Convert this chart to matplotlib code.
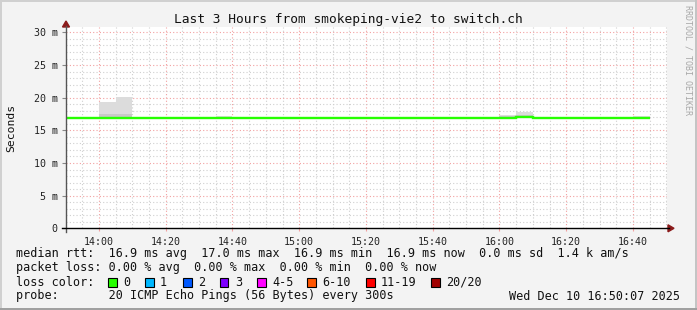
import numpy as np
import matplotlib
matplotlib.use("Agg")
import matplotlib.pyplot as plt
from matplotlib.patches import Rectangle

# time axis in minutes relative to 14:00, 5 minute steps (300s)
step_edges = [-10, -5, 0, 5, 10, 15, 20, 25, 30, 35, 40, 45, 50, 55, 60, 65, 70, 75,
              80, 85, 90, 95, 100, 105, 110, 115, 120, 125, 130, 135, 140, 145, 150,
              155, 160, 165]
median_ms = [16.9, 16.9, 16.9, 16.9, 16.9, 16.9, 16.9, 16.9, 16.9, 16.9, 16.9, 16.9,
             16.9, 16.9, 16.9, 16.9, 16.9, 16.9, 16.9, 16.9, 16.9, 16.9, 16.9, 16.9,
             16.9, 16.9, 16.9, 17.1, 16.9, 16.9, 16.9, 16.9, 16.9, 16.9, 16.9]
smoke_min = [16.8, 16.8, 16.8, 16.8, 16.8, 16.8, 16.8, 16.8, 16.8, 16.8, 16.8, 16.8,
             16.8, 16.8, 16.8, 16.8, 16.8, 16.8, 16.8, 16.8, 16.8, 16.8, 16.8, 16.8,
             16.8, 16.8, 16.8, 16.9, 16.8, 16.8, 16.8, 16.8, 16.8, 16.8, 16.8]
smoke_mid = [17.0, 17.0, 17.45, 17.5, 17.0, 17.0, 17.0, 17.0, 17.0, 17.1, 17.0, 17.0,
             17.0, 17.0, 17.0, 17.0, 17.0, 17.0, 17.0, 17.0, 17.0, 17.0, 17.0, 17.0,
             17.0, 17.0, 17.2, 17.4, 17.0, 17.0, 17.0, 17.0, 17.0, 17.0, 17.1]
smoke_max = [17.0, 17.0, 19.3, 20.15, 17.0, 17.0, 17.0, 17.0, 17.0, 17.25, 17.0, 17.0,
             17.0, 17.0, 17.0, 17.0, 17.0, 17.0, 17.0, 17.0, 17.0, 17.0, 17.0, 17.0,
             17.0, 17.0, 17.35, 17.8, 17.0, 17.0, 17.0, 17.0, 17.0, 17.0, 17.25]

x_ticks = [0, 20, 40, 60, 80, 100, 120, 140, 160]
x_labels = ["14:00", "14:20", "14:40", "15:00", "15:20", "15:40", "16:00", "16:20", "16:40"]
y_ticks = [0, 5, 10, 15, 20, 25, 30]
y_labels = ["0", "5 m", "10 m", "15 m", "20 m", "25 m", "30 m"]

loss_labels = ["0", "1", "2", "3", "4-5", "6-10", "11-19", "20/20"]
loss_colors = ["#26ff00", "#00b8ff", "#0059ff", "#7e00ff", "#ff00ff", "#ff5500",
               "#ff0000", "#a10000"]

W, H = 697, 310
mono = "DejaVu Sans Mono"
fig = plt.figure(figsize=(W / 100, H / 100), dpi=100, facecolor="#f3f3f3")

x0, x1 = -9.88, 170.12
ax_l, ax_r, ax_b, ax_t = 66, 666.75, 228.3, 27.2
ax = fig.add_axes([ax_l / W, (H - ax_b) / H, (ax_r - ax_l) / W, (ax_b - ax_t) / H])
ax.set_facecolor("white")
ax.set_xlim(x0, x1)
ax.set_ylim(0, 30.8)

# grid
for m in range(-5, 171, 5):
    major = m % 20 == 0
    ax.axvline(m, color="#f2a0a0" if major else "#cfcfcf", lw=0.8,
               ls=(0, (1, 2)), zorder=1)
for v in range(1, 31):
    major = v % 5 == 0
    ax.axhline(v, color="#f2a0a0" if major else "#cfcfcf", lw=0.8,
               ls=(0, (1, 2)), zorder=1)

# smoke
ax.stairs(smoke_max, step_edges, baseline=smoke_min, fill=True, color="#dcdcdc",
          lw=0, zorder=2)
ax.stairs(smoke_mid, step_edges, baseline=smoke_min, fill=True, color="#c8c8c8",
          lw=0, zorder=3)
# median
ax.stairs(median_ms, step_edges, baseline=None, color="#26ff00", lw=1.7, zorder=4)

for s in ax.spines.values():
    s.set_visible(False)
ax.set_xticks(x_ticks)
ax.set_xticklabels(x_labels, family=mono, fontsize=7.2, color="#222222")
ax.set_yticks(y_ticks)
ax.set_yticklabels(y_labels, family=mono, fontsize=7.2, color="#222222")
ax.tick_params(axis="x", length=2, color="#f2a0a0", pad=4)
ax.tick_params(axis="y", length=3, color="#888888", pad=3)

# axis lines with arrows
fig.add_artist(plt.Line2D([ax_l / W, ax_l / W], [(H - ax_b - 4) / H, (H - 26) / H],
                          color="#555555", lw=1))
fig.add_artist(plt.Line2D([(ax_l - 4) / W, 669 / W], [(H - ax_b) / H, (H - ax_b) / H],
                          color="#000000", lw=1))
fig.add_artist(plt.Polygon([[(ax_l - 3.5) / W, (H - 27) / H], [(ax_l + 3.5) / W, (H - 27) / H],
                            [ax_l / W, (H - 21) / H]], closed=True, color="#8b1a1a"))
fig.add_artist(plt.Polygon([[668 / W, (H - ax_b + 3.5) / H], [668 / W, (H - ax_b - 3.5) / H],
                            [674 / W, (H - ax_b) / H]], closed=True, color="#8b1a1a"))

fig.text(348 / W, (H - 19) / H, "Last 3 Hours from smokeping-vie2 to switch.ch",
         family=mono, fontsize=9.3, ha="center", va="center", color="#111111")
fig.text(11 / W, (H - 128) / H, "Seconds", family=mono, fontsize=8.2, rotation=90,
         ha="center", va="center", color="#111111")
fig.text(688 / W, (H - 60) / H, "RRDTOOL / TOBI OETIKER", family=mono, fontsize=6,
         rotation=270, ha="center", va="center", color="#a8a8a8")

rows = [
    (254, "median rtt:  16.9 ms avg  17.0 ms max  16.9 ms min  16.9 ms now  0.0 ms sd  1.4 k am/s"),
    (268, "packet loss: 0.00 % avg  0.00 % max  0.00 % min  0.00 % now"),
    (282, "loss color:"),
    (296, "probe:       20 ICMP Echo Pings (56 Bytes) every 300s"),
]
for y, t in rows:
    fig.text(16 / W, (H - y) / H, t, family=mono, fontsize=8.5, ha="left",
             va="center", color="#111111")
fig.text(680 / W, (H - 296) / H, "Wed Dec 10 16:50:07 2025", family=mono, fontsize=8.5,
         ha="right", va="center", color="#111111")

box_x = [108, 145, 183, 220, 257, 307, 366, 431]
for bx, lab, col in zip(box_x, loss_labels, loss_colors):
    fig.add_artist(Rectangle((bx / W, (H - 286.5) / H), 8.5 / W, 8.5 / H,
                             facecolor=col, edgecolor="black", lw=0.8))
    fig.text((bx + 15) / W, (H - 282) / H, lab, family=mono, fontsize=8.5,
             ha="left", va="center", color="#111111")

# rrdtool frame
fig.add_artist(Rectangle((0, 0), 2 / W, 1, color="#d0d0d0", lw=0))
fig.add_artist(Rectangle((0, 1 - 2 / H), 1, 2 / H, color="#d0d0d0", lw=0))
fig.add_artist(Rectangle((1 - 2 / W, 0), 2 / W, 1, color="#c4c4c4", lw=0))
fig.add_artist(Rectangle((0, 0), 1, 2.5 / H, color="#a0a0a0", lw=0))

fig.savefig("out.png", dpi=100, facecolor=fig.get_facecolor())
